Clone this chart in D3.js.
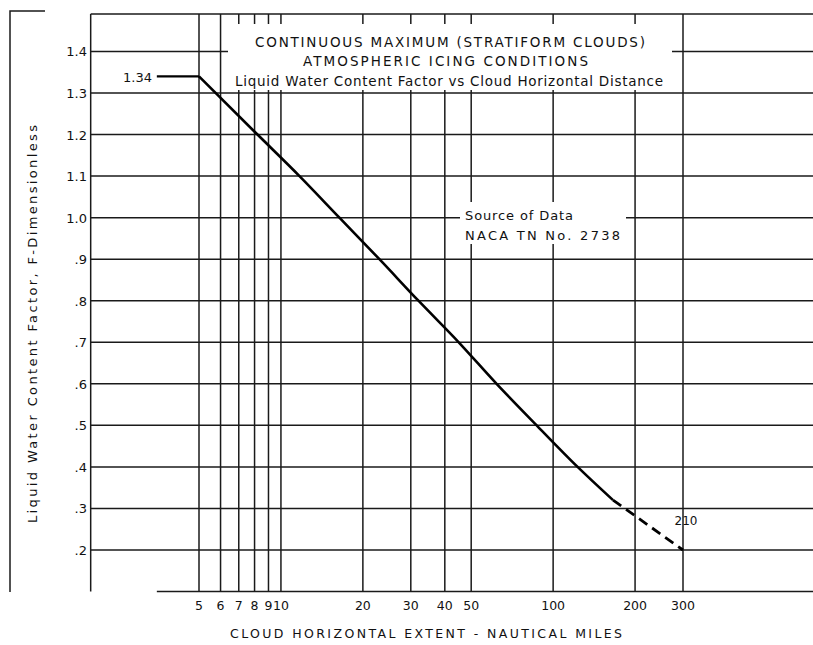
<!DOCTYPE html>
<html>
<head>
<meta charset="utf-8">
<script src="https://cdn.jsdelivr.net/npm/d3@7"></script>
<style>
  body { margin: 0; background: #fff; }
  text { font-family: "DejaVu Sans", sans-serif; fill: #111; }
</style>
</head>
<body>
<div id="chart-container"></div>
<script>
// cloud horizontal extent, nautical miles (log axis)
const xTickValues = [5, 6, 7, 8, 9, 10, 20, 30, 40, 50, 100, 200, 300];
// liquid water content factor
const yTickValues = [0.2, 0.3, 0.4, 0.5, 0.6, 0.7, 0.8, 0.9, 1.0, 1.1, 1.2, 1.3, 1.4];
const yTickLabels = [".2", ".3", ".4", ".5", ".6", ".7", ".8", ".9", "1.0", "1.1", "1.2", "1.3", "1.4"];
const yGridValues = [0.2, 0.3, 0.4, 0.5, 0.6, 0.7, 0.8, 0.9, 1.0, 1.1, 1.2, 1.3, 1.4, 1.49];

// solid part of the curve
const curveMiles = [5, 8.2, 11.7, 16.4, 23, 32, 45, 62, 87, 123, 166];
const curveFactor = [1.34, 1.2, 1.1, 1.0, 0.9, 0.8, 0.7, 0.6, 0.5, 0.4, 0.32];
// extrapolated (dashed) part
const dashMiles = [166, 300];
const dashFactor = [0.32, 0.2];
// flat cap at the maximum
const capMiles = [3.5, 5];
const capFactor = [1.34, 1.34];

const width = 813;
const height = 645;

const x = d3.scaleLog().domain([5, 300]).range([199, 683]);
const y = d3.scaleLinear().domain([0.2, 1.3]).range([550, 93]);

const svg = d3
  .select("#chart-container")
  .append("svg")
  .attr("width", width)
  .attr("height", height);

const grid = svg.append("g").style("stroke", "#1a1a1a").style("stroke-width", 1.5);

// horizontal grid, from the left axis (x = 2) to the page edge
grid
  .selectAll("line.h")
  .data(yGridValues)
  .enter()
  .append("line")
  .attr("x1", x(2))
  .attr("x2", width)
  .attr("y1", (d) => y(d))
  .attr("y2", (d) => y(d));

// vertical grid at each labelled distance
grid
  .selectAll("line.v")
  .data(xTickValues)
  .enter()
  .append("line")
  .attr("x1", (d) => x(d))
  .attr("x2", (d) => x(d))
  .attr("y1", y(1.49))
  .attr("y2", y(0.1));

// left axis line
grid
  .append("line")
  .attr("x1", x(2))
  .attr("x2", x(2))
  .attr("y1", y(1.49))
  .attr("y2", y(0.1));

// bottom axis line
grid
  .append("line")
  .attr("x1", x(3.5))
  .attr("x2", width)
  .attr("y1", y(0.1))
  .attr("y2", y(0.1));

// outer bracket at far left
svg
  .append("path")
  .attr("d", "M45,11 H10 V592")
  .style("fill", "none")
  .style("stroke", "#1a1a1a")
  .style("stroke-width", 1.5);

// white patches behind the titles and the note
svg.append("rect").attr("x", 228).attr("y", 24).attr("width", 444).attr("height", 66).style("fill", "#fff");
svg.append("rect").attr("x", 460).attr("y", 202).attr("width", 166).attr("height", 42).style("fill", "#fff");
svg.append("rect").attr("x", 112).attr("y", 68).attr("width", 44).attr("height", 18).style("fill", "#fff");

// curve
const line = d3
  .line()
  .x((d) => x(d[0]))
  .y((d) => y(d[1]));

svg
  .append("path")
  .attr("d", line(d3.zip(capMiles, capFactor)))
  .style("fill", "none")
  .style("stroke", "#000")
  .style("stroke-width", 2.2);

svg
  .append("path")
  .attr("d", line.curve(d3.curveMonotoneX)(d3.zip(curveMiles, curveFactor)))
  .style("fill", "none")
  .style("stroke", "#000")
  .style("stroke-width", 2.6);

svg
  .append("path")
  .attr("d", line.curve(d3.curveLinear)(d3.zip(dashMiles, dashFactor)))
  .style("fill", "none")
  .style("stroke", "#000")
  .style("stroke-width", 2.8)
  .style("stroke-dasharray", "10,6");

// x tick labels
svg
  .selectAll("text.xt")
  .data(xTickValues)
  .enter()
  .append("text")
  .attr("x", (d) => x(d))
  .attr("y", 610)
  .attr("text-anchor", "middle")
  .style("font-size", "12.5px")
  .text((d) => d);

// y tick labels
svg
  .selectAll("text.yt")
  .data(yTickValues)
  .enter()
  .append("text")
  .attr("x", 87)
  .attr("y", (d) => y(d) + 5)
  .attr("text-anchor", "end")
  .style("font-size", "13px")
  .text((d, i) => yTickLabels[i]);

// point labels
svg.append("text").attr("x", 152).attr("y", 82).attr("text-anchor", "end").style("font-size", "13px").text("1.34");
svg.append("text").attr("x", x(300) + 3).attr("y", 525).attr("text-anchor", "middle").style("font-size", "12px").text("210");

// titles
svg.append("text").attr("x", 255).attr("y", 47).attr("textLength", 390).style("font-size", "13.5px").text("CONTINUOUS MAXIMUM (STRATIFORM CLOUDS)");
svg.append("text").attr("x", 303).attr("y", 66).attr("textLength", 285).style("font-size", "13.5px").text("ATMOSPHERIC ICING CONDITIONS");
svg.append("text").attr("x", 235).attr("y", 86).attr("textLength", 428).style("font-size", "13.5px").text("Liquid Water Content Factor vs Cloud Horizontal Distance");

svg.append("text").attr("x", 465).attr("y", 220).attr("textLength", 108).style("font-size", "13px").text("Source of Data");
svg.append("text").attr("x", 465).attr("y", 240).attr("textLength", 155).style("font-size", "13px").text("NACA TN No. 2738");

// axis titles
svg.append("text").attr("x", 230).attr("y", 638).attr("textLength", 392).style("font-size", "12.5px").text("CLOUD HORIZONTAL EXTENT - NAUTICAL MILES");

svg
  .append("text")
  .attr("transform", "translate(37,523) rotate(-90)")
  .attr("textLength", 398)
  .style("font-size", "13px")
  .text("Liquid Water Content Factor, F-Dimensionless");
</script>
</body>
</html>
